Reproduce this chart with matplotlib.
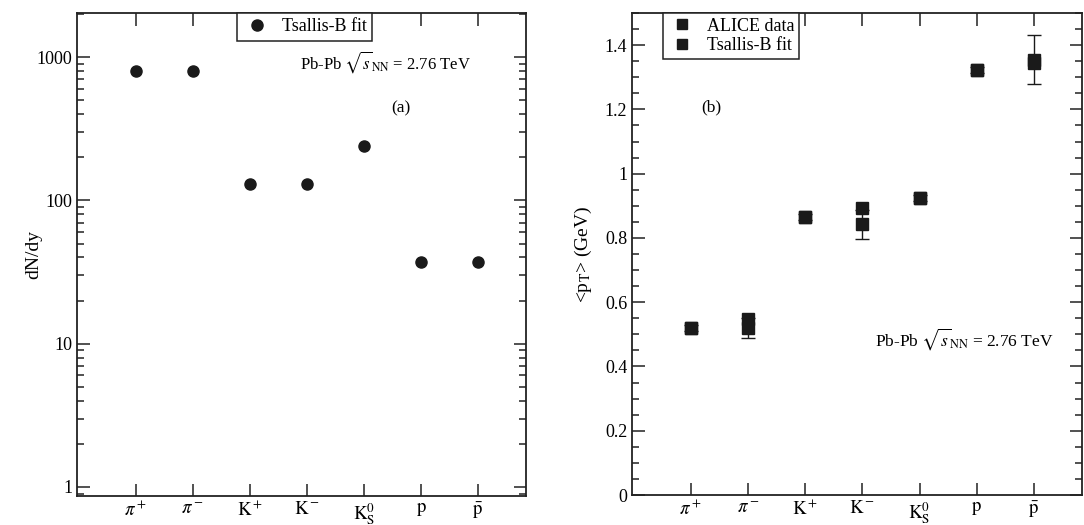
import matplotlib
matplotlib.use("Agg")
import matplotlib.pyplot as plt
import numpy as np
from matplotlib.lines import Line2D
from matplotlib.ticker import LogLocator, NullFormatter, MultipleLocator, FixedLocator

plt.rcParams["font.family"] = ["Liberation Serif", "DejaVu Serif"]
plt.rcParams["mathtext.fontset"] = "stix"
plt.rcParams["font.size"] = 12

# Particle species
particles = [r"$\pi^+$", r"$\pi^-$", r"$\mathrm{K}^+$", r"$\mathrm{K}^-$",
             r"$\mathrm{K}^0_\mathrm{S}$", r"$\mathrm{p}$", r"$\bar{\mathrm{p}}$"]
xpos = np.arange(1, len(particles) + 1)

# (a) yields from the Tsallis-B fit
dndy_fit = [800, 800, 130, 130, 240, 37, 37]

# (b) mean transverse momentum
mpt_data = [0.52, 0.52, 0.865, 0.842, 0.925, 1.322, 1.355]
mpt_err = [0.01, 0.032, 0.01, 0.046, 0.01, 0.01, 0.076]
mpt_fit = [0.52, 0.547, 0.865, 0.894, 0.925, 1.322, 1.345]

energy_label = r"Pb-Pb $\sqrt{s}_{\mathrm{NN}}$ = 2.76 TeV"
ink = "#1a1a1a"

fig = plt.figure(figsize=(10.84, 5.25), dpi=100)
ax1 = fig.add_axes([77 / 1084, 29 / 525, 449 / 1084, 483 / 525])
ax2 = fig.add_axes([632 / 1084, 30 / 525, 450 / 1084, 482 / 525])


def style_axes(ax):
    for sp in ax.spines.values():
        sp.set_linewidth(1.3)
        sp.set_color("#222222")
    ax.tick_params(which="both", direction="in", top=True, right=True,
                   color="#222222", width=1.1, labelsize=13)
    ax.tick_params(which="major", length=9)
    ax.tick_params(which="minor", length=5)
    ax.tick_params(axis="x", which="minor", length=0, top=False, bottom=False)
    ax.set_xticks(xpos)
    ax.set_xticklabels(particles, fontsize=13.5)
    ax.set_xlim(-0.03, 7.84)


# ---- panel (a) ----
ax1.plot(xpos, dndy_fit, "o", color=ink, markersize=8,
         label="Tsallis-B fit", linestyle="none")
ax1.set_yscale("log")
ax1.set_ylim(0.865, 2030)
ax1.yaxis.set_major_locator(FixedLocator([1, 10, 100, 1000]))
ax1.set_yticklabels(["1", "10", "100", "1000"])
ax1.yaxis.set_minor_locator(LogLocator(base=10, subs=np.arange(2, 10)))
ax1.yaxis.set_minor_formatter(NullFormatter())
style_axes(ax1)
ax1.set_ylabel("dN/dy", fontsize=14, labelpad=-4)
leg1 = ax1.legend(loc="upper left", bbox_to_anchor=(0.356, 1.0),
                  borderaxespad=0, fancybox=False, edgecolor="#222222",
                  framealpha=1, fontsize=13, handletextpad=0.6,
                  borderpad=0.3, handlelength=1.6)
leg1.get_frame().set_linewidth(1.1)
ax1.text(0.497, 0.885, energy_label, transform=ax1.transAxes, fontsize=12)
ax1.text(0.70, 0.795, "(a)", transform=ax1.transAxes, fontsize=12.5)

# ---- panel (b) ----
ax2.errorbar(xpos, mpt_data, yerr=mpt_err, fmt="s", color=ink,
             markersize=8, capsize=5, elinewidth=1, capthick=1)
ax2.plot(xpos, mpt_fit, "s", color=ink, markersize=8, linestyle="none")
ax2.set_ylim(0, 1.5)
ax2.yaxis.set_major_locator(MultipleLocator(0.2))
ax2.yaxis.set_minor_locator(MultipleLocator(0.05))
ax2.set_yticks([0, 0.2, 0.4, 0.6, 0.8, 1.0, 1.2, 1.4])
ax2.set_yticklabels(["0", "0.2", "0.4", "0.6", "0.8", "1", "1.2", "1.4"])
style_axes(ax2)
ax2.set_ylabel(r"<p$_\mathrm{T}$> (GeV)", fontsize=14, labelpad=8)
sq = dict(marker="s", color=ink, linestyle="none", markersize=7)
leg2 = ax2.legend([Line2D([], [], **sq), Line2D([], [], **sq)],
                  ["ALICE data", "Tsallis-B fit"], loc="upper left",
                  bbox_to_anchor=(0.069, 1.0), borderaxespad=0,
                  fancybox=False, edgecolor="#222222", framealpha=1,
                  fontsize=13, handletextpad=0.6, borderpad=0.25,
                  labelspacing=0.15, handlelength=1.6)
leg2.get_frame().set_linewidth(1.1)
ax2.text(0.155, 0.795, "(b)", transform=ax2.transAxes, fontsize=12.5)
ax2.text(0.54, 0.31, energy_label, transform=ax2.transAxes, fontsize=12.5)

fig.savefig("out.png", dpi=100)
